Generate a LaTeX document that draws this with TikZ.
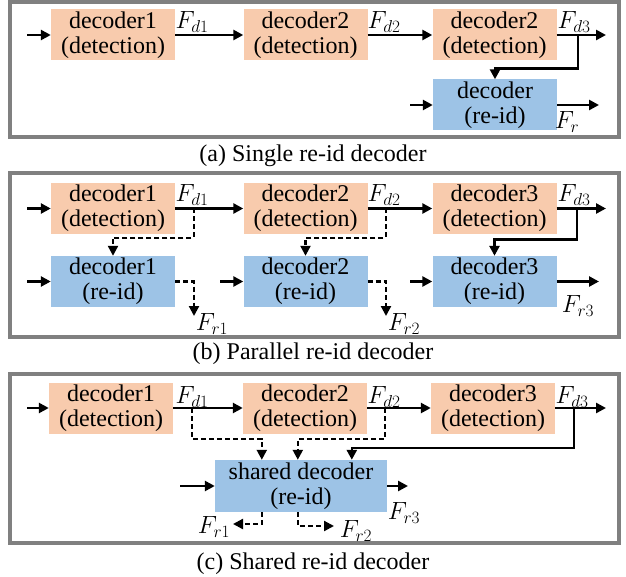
\documentclass[tikz,border=0pt]{standalone}
\usepackage{fontspec}
\setmainfont{Liberation Serif}
\usetikzlibrary{arrows.meta,calc}
\definecolor{detc}{HTML}{F8CBAD}
\definecolor{reidc}{HTML}{9DC3E6}
\definecolor{framegray}{HTML}{808080}
\begin{document}
\begin{tikzpicture}[x=1pt,y=-1pt,
  every node/.style={font=\rmfamily\fontsize{24}{25}\selectfont},
  detbox/.style={fill=detc, minimum width=124pt, minimum height=51pt, inner sep=0pt, align=center},
  reidbox/.style={fill=reidc, minimum width=124pt, minimum height=51pt, inner sep=0pt, align=center},
  arr/.style={line width=2.6pt, -{Triangle[length=10pt,width=10pt]}},
  darr/.style={arr, line width=2.2pt, dash pattern=on 5pt off 3pt},
  framebox/.style={draw=framegray, line width=3.5pt},
  lab/.style={inner sep=0pt, font=\fontsize{27}{27}\selectfont},
  captext/.style={inner sep=0pt}]
\useasboundingbox (0,0) rectangle (626,577);

% ---------------- (a) ----------------
\draw[framebox] (10,2) rectangle (619,137);
\node[detbox] (a1) at (113,35) {decoder1\\(detection)};
\node[detbox] (a2) at (305.5,35) {decoder2\\(detection)};
\node[detbox] (a3) at (494.5,35) {decoder2\\(detection)};
\node[reidbox] (ar) at (495,105) {decoder\\(re-id)};
\coordinate (ain) at (27,35);
\coordinate (aout) at (606,35);
\coordinate (abr) at (578,35);
\coordinate (arin) at (410,105);
\coordinate (arout) at (599,105);
\draw[arr] (ain) -- (a1.west);
\draw[arr] (a1.east) -- (a2.west);
\draw[arr] (a2.east) -- (a3.west);
\draw[arr] (a3.east) -- (aout);
\draw[arr] (abr) |- ($(ar.north)+(0,-11)$) -- (ar.north);
\draw[arr] (arin) -- (ar.west);
\draw[arr] (ar.east) -- (arout);
\node[lab] (afd1) at (192,22) {$F_{d1}$};
\node[lab] (afd2) at (384,22) {$F_{d2}$};
\node[lab] (afd3) at (574,22) {$F_{d3}$};
\node[lab] (afr) at (567,122) {$F_{r}$};
\node[captext] (capa) at (313,156) {(a) Single re-id decoder};

% ---------------- (b) ----------------
\draw[framebox] (10,173) rectangle (619,337);
\node[detbox] (b1) at (113,208.5) {decoder1\\(detection)};
\node[detbox] (b2) at (305.5,208.5) {decoder2\\(detection)};
\node[detbox] (b3) at (494.5,208.5) {decoder3\\(detection)};
\node[reidbox] (r1) at (113,281.5) {decoder1\\(re-id)};
\node[reidbox] (r2) at (305.5,281.5) {decoder2\\(re-id)};
\node[reidbox] (r3) at (494.5,281.5) {decoder3\\(re-id)};
\coordinate (bin) at (27,208.5);
\coordinate (bout) at (606,208.5);
\coordinate (bb1) at (194,208.5);
\coordinate (bb2) at (386,208.5);
\coordinate (bb3) at (577,208.5);
\coordinate (r1in) at (27,281.5);
\coordinate (r2in) at (220,281.5);
\coordinate (r3in) at (410,281.5);
\coordinate (r3out) at (599,281.5);
\coordinate (fr1e) at (194,316);
\coordinate (fr2e) at (386,316);
\draw[arr] (bin) -- (b1.west);
\draw[arr] (b1.east) -- (b2.west);
\draw[arr] (b2.east) -- (b3.west);
\draw[arr] (b3.east) -- (bout);
\draw[darr] (bb1) |- ($(r1.north)+(0,-18)$) -- (r1.north);
\draw[darr] (bb2) |- ($(r2.north)+(0,-18)$) -- (r2.north);
\draw[arr] (bb3) |- ($(r3.north)+(0,-16)$) -- (r3.north);
\draw[arr] (r1in) -- (r1.west);
\draw[arr] (r2in) -- (r2.west);
\draw[arr] (r3in) -- (r3.west);
\draw[darr] (r1.east) -| (fr1e);
\draw[darr] (r2.east) -| (fr2e);
\draw[arr] (r3.east) -- (r3out);
\node[lab] (bfd1) at (192,195) {$F_{d1}$};
\node[lab] (bfd2) at (384,195) {$F_{d2}$};
\node[lab] (bfd3) at (574,195) {$F_{d3}$};
\node[lab] (bfr1) at (212,324) {$F_{r1}$};
\node[lab] (bfr2) at (404,324) {$F_{r2}$};
\node[lab] (bfr3) at (578,306) {$F_{r3}$};
\node[captext] (capb) at (313,354) {(b) Parallel re-id decoder};

% ---------------- (c) ----------------
\draw[framebox] (10,374) rectangle (619,543);
\node[detbox] (c1) at (111,408) {decoder1\\(detection)};
\node[detbox] (c2) at (305,408) {decoder2\\(detection)};
\node[detbox] (c3) at (493,408) {decoder3\\(detection)};
\node[reidbox, minimum width=172pt, minimum height=52pt] (s) at (301,486) {shared decoder\\(re-id)};
\coordinate (cin) at (27,408);
\coordinate (cout) at (606,408);
\coordinate (cb1) at (192,408);
\coordinate (cb2) at (385,408);
\coordinate (cb3) at (574,408);
\coordinate (sin) at (180,486);
\coordinate (sout) at (408,486);
\coordinate (cr1e) at (233,524);
\coordinate (cr2e) at (334,526);
\draw[arr] (cin) -- (c1.west);
\draw[arr] (c1.east) -- (c2.west);
\draw[arr] (c2.east) -- (c3.west);
\draw[arr] (c3.east) -- (cout);
\draw[darr] (cb1) |- ($(s.north west)+(47,-21)$) -- ($(s.north west)+(47,0)$);
\draw[darr] (cb2) |- ($(s.north west)+(83,-21)$) -- ($(s.north west)+(83,0)$);
\draw[arr] (cb3) |- ($(s.north west)+(137,-12)$) -- ($(s.north west)+(137,0)$);
\draw[arr] (sin) -- (s.west);
\draw[arr] (s.east) -- (sout);
\draw[darr] ($(s.south west)+(47,0)$) |- (cr1e);
\draw[darr] ($(s.south west)+(83,0)$) |- (cr2e);
\node[lab] (cfd1) at (192,397) {$F_{d1}$};
\node[lab] (cfd2) at (384,397) {$F_{d2}$};
\node[lab] (cfd3) at (572,397) {$F_{d3}$};
\node[lab] (cfr1) at (214,527) {$F_{r1}$};
\node[lab] (cfr2) at (356,531) {$F_{r2}$};
\node[lab] (cfr3) at (404,513) {$F_{r3}$};
\node[captext] (capc) at (313,564) {(c) Shared re-id decoder};
\end{tikzpicture}
\end{document}
